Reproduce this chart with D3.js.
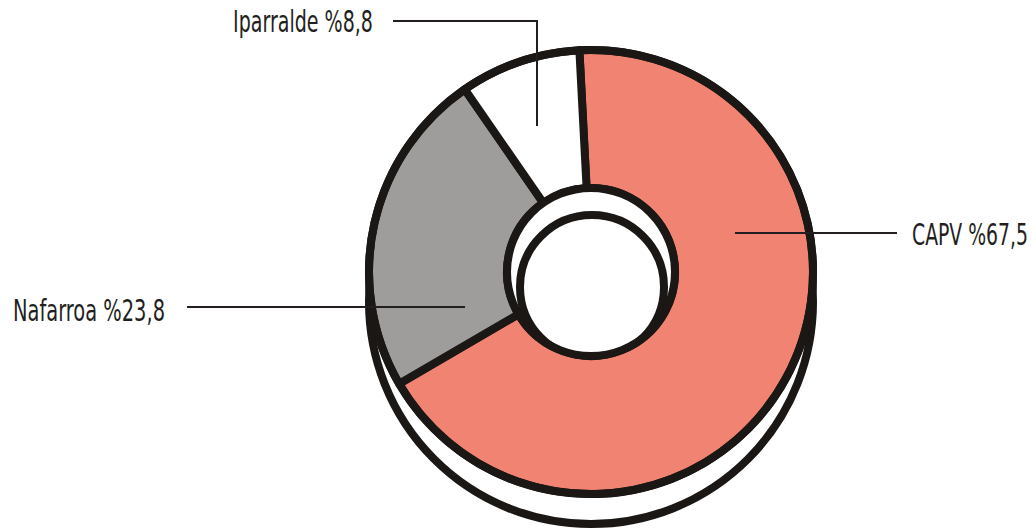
<!DOCTYPE html>
<html>
<head>
<meta charset="utf-8">
<script src="https://cdn.jsdelivr.net/npm/d3@7/dist/d3.min.js"></script>
<style>
    html, body { margin: 0; padding: 0; background: #fff; }
    svg { display: block; }
    .lbl { font-family: 'Liberation Sans Narrow', 'DejaVu Sans Condensed', 'Roboto', sans-serif; font-stretch: condensed; font-size: 31px; fill: #231f20; }
</style>
</head>
<body>
<svg id="chart"></svg>
<script>
// ── Donut: share by territory ────────────────────────────────────────────────
(function () {
    'use strict';

    const regions = ['CAPV', 'Nafarroa', 'Iparralde'];
    const shares  = [67.5, 23.8, 8.8];
    const labels  = ['CAPV %67,5', 'Nafarroa %23,8', 'Iparralde %8,8'];

    const W = 1036, H = 531;
    const cx = 591, cy = 272;      // top ring centre
    const R = 222, r = 84;         // outer / hole radius (stroke centre)
    const SW = 8;                  // ring stroke
    const DROP = 30;               // shadow ring offset
    const INK = '#1a1715';

    const colour = d3.scaleOrdinal()
        .domain(regions)
        .range(['#f08372', '#9e9d9b', '#ffffff']);

    const svg = d3.select('#chart')
        .attr('width', W)
        .attr('height', H)
        .attr('viewBox', `0 0 ${W} ${H}`);

    const deg = Math.PI / 180;
    const pie = d3.pie()
        .sort(null)
        .startAngle(-3 * deg)
        .endAngle(357 * deg);
    const arcs = pie(shares);

    const arc = d3.arc().innerRadius(r).outerRadius(R);

    // shadow ring below
    svg.append('circle')
        .attr('cx', cx).attr('cy', cy + DROP).attr('r', R)
        .attr('fill', '#fff')
        .attr('stroke', INK)
        .attr('stroke-width', SW);

    const g = svg.append('g').attr('transform', `translate(${cx},${cy})`);

    g.selectAll('path.slice')
        .data(arcs)
        .enter()
        .append('path')
        .attr('class', 'slice')
        .attr('d', arc)
        .attr('fill', function (d, i) { return colour(regions[i]); })
        .attr('stroke', INK)
        .attr('stroke-width', SW)
        .attr('stroke-linejoin', 'round');

    // clean outer rim
    g.append('circle')
        .attr('r', R)
        .attr('fill', 'none')
        .attr('stroke', INK)
        .attr('stroke-width', SW);

    // hole, with the lower ring's inner edge seen through it
    svg.append('defs').append('clipPath').attr('id', 'hole')
        .append('circle').attr('r', r);

    g.append('circle')
        .attr('r', r)
        .attr('fill', '#fff');

    g.append('circle')
        .attr('clip-path', 'url(#hole)')
        .attr('cx', 1).attr('cy', 15).attr('r', 72)
        .attr('fill', '#fff')
        .attr('stroke', INK)
        .attr('stroke-width', SW);

    g.append('circle')
        .attr('r', r)
        .attr('fill', 'none')
        .attr('stroke', INK)
        .attr('stroke-width', SW);

    // leader lines + labels (layout only)
    const layout = [
        { pts: [[735, 233], [897, 233]], tx: 912, ty: 245, w: 116, anchor: 'start' },
        { pts: [[465, 307], [187, 307]], tx: 165, ty: 321, w: 152, anchor: 'end' },
        { pts: [[537, 126], [537, 21], [393, 21]], tx: 373, ty: 32, w: 140, anchor: 'end' }
    ];

    const line = d3.line();
    const ann = svg.append('g');

    layout.forEach(function (L, i) {
        ann.append('path')
            .attr('d', line(L.pts))
            .attr('fill', 'none')
            .attr('stroke', '#231f20')
            .attr('stroke-width', 2);

        // squeeze the label horizontally to the condensed width of the original
        var holder = ann.append('g');
        var t = holder.append('text')
            .attr('class', 'lbl')
            .attr('text-anchor', L.anchor)
            .text(labels[i]);
        var sx = L.w / t.node().getComputedTextLength();
        holder.attr('transform', `translate(${L.tx},${L.ty}) scale(${sx},1)`);
    });
})();
</script>
</body>
</html>
